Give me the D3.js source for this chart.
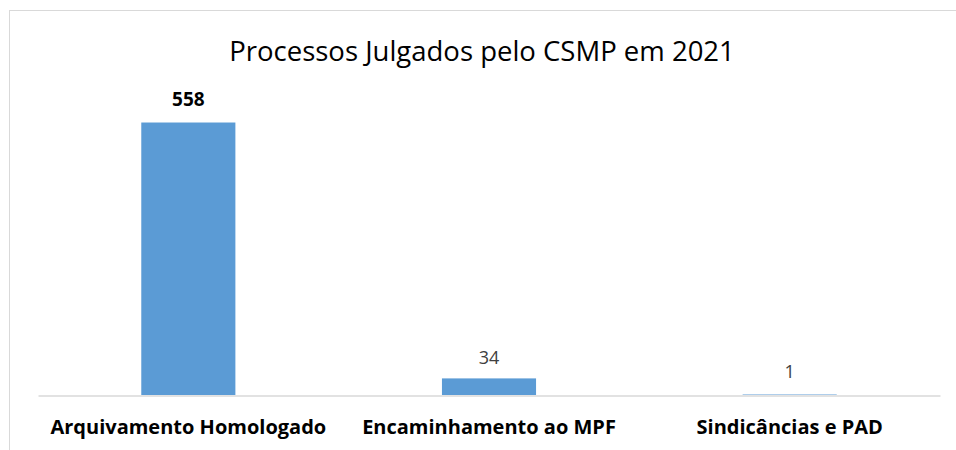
<!DOCTYPE html>
<html>
<head>
<meta charset="utf-8">
<script src="https://cdn.jsdelivr.net/npm/d3@7"></script>
<style>
  body { margin: 0; background: #fff; }
  svg { display: block; font-family: "Open Sans", sans-serif; }
</style>
</head>
<body>
<div id="chart"></div>
<script>
const categories = ["Arquivamento Homologado", "Encaminhamento ao MPF", "Sindicâncias e PAD"];
const values = [558, 34, 1];
const boldLabel = [true, false, false];
const title = "Processos Julgados pelo CSMP em 2021";

const W = 956, H = 450;

const svg = d3.select("#chart").append("svg")
              .attr("width", W)
              .attr("height", H);

// chart frame, cut off at right and bottom
svg.append("rect")
   .attr("x", 9.5).attr("y", 10.5)
   .attr("width", 1000).attr("height", 1000)
   .attr("fill", "none")
   .attr("stroke", "#d9d9d9");

svg.append("text")
   .attr("x", 482)
   .attr("y", 61)
   .attr("text-anchor", "middle")
   .style("font-size", "27.5px")
   .style("fill", "#000")
   .text(title);

let xScale = d3.scaleBand()
               .domain(categories)
               .range([38, 940])
               .paddingInner(0.687)
               .paddingOuter(0.3435);

let yScale = d3.scaleLinear()
               .domain([0, 600])
               .range([395, 102]);

// bars
svg.selectAll(".bar")
   .data(values)
   .enter()
   .append("rect")
   .attr("class", "bar")
   .attr("x", (d, i) => xScale(categories[i]))
   .attr("y", d => yScale(d))
   .attr("width", xScale.bandwidth())
   .attr("height", d => yScale(0) - yScale(d))
   .style("fill", "#5b9bd5");

// baseline + category labels
let xAxis = d3.axisBottom(xScale).tickSize(0);
svg.append("g")
   .attr("transform", "translate(0,395.5)")
   .call(xAxis)
   .call(g => g.select(".domain").attr("stroke", "#d9d9d9").attr("stroke-width", 1.5))
   .selectAll("text")
   .attr("y", 38.5)
   .attr("dy", null)
   .style("font-family", "'Open Sans', sans-serif")
   .style("font-size", "20px")
   .style("font-weight", "bold")
   .style("fill", "#000");

// value labels
svg.selectAll(".val")
   .data(values)
   .enter()
   .append("text")
   .attr("class", "val")
   .attr("x", (d, i) => xScale(categories[i]) + xScale.bandwidth() / 2)
   .attr("y", d => yScale(d) - (d === 34 ? 14 : 16.5))
   .attr("text-anchor", "middle")
   .style("font-size", (d, i) => boldLabel[i] ? "19px" : "18px")
   .style("font-weight", (d, i) => boldLabel[i] ? "bold" : "normal")
   .style("fill", (d, i) => boldLabel[i] ? "#000" : "#404040")
   .text(d => d);
</script>
</body>
</html>
